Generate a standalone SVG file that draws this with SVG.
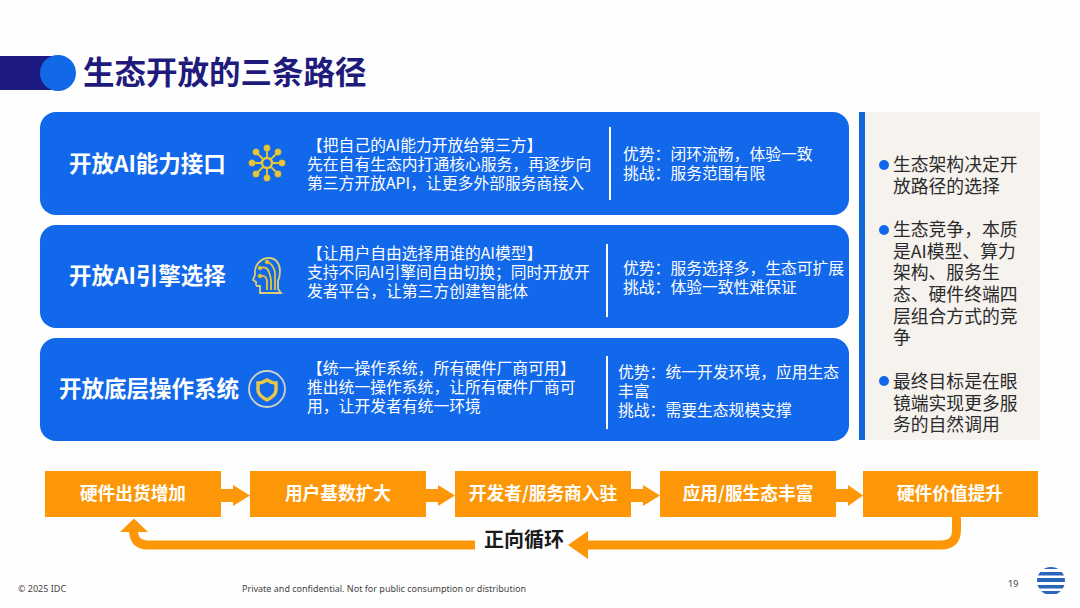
<svg xmlns="http://www.w3.org/2000/svg" width="1080" height="608" viewBox="0 0 1080 608">
<style>
text{font-family:"Noto Sans CJK SC","Noto Sans",sans-serif}
.card{fill:#1268ea}
.ct{fill:#fff;font-size:22.500px;font-weight:700}
.b{fill:#fff;font-size:15.800px}
.sep{stroke:#fff;stroke-width:2}
.side{fill:#2b2b2b;font-size:17.800px}
.dot{fill:#1268ea}
.box{fill:#fd9708}
.bt{fill:#fff;font-size:17.700px;font-weight:700;text-anchor:middle}
.ar{fill:#fd9708}
.ic{fill:none;stroke:#e6c63c;stroke-width:1.800}
.icd{fill:#e6c63c;stroke:#d0b030;stroke-width:.5}
.ft{fill:#444;font-size:9px;font-family:"Noto Sans",sans-serif}
</style>
<rect width="1080" height="608" fill="#fefefe"/>
<g id="header">
<rect x="0" y="56" width="60" height="34" fill="#1e1a84"/>
<circle cx="58" cy="73" r="18" fill="#1269e8"/>
<text x="83" y="84" font-size="31.500" font-weight="700" fill="#1f1b7c">生态开放的三条路径</text>
</g>
<g id="card1">
<rect class="card" x="40" y="112" width="809" height="103" rx="16"/>
<text class="ct" x="69" y="172">开放AI能力接口</text>
<g transform="translate(267,163)">
<g class="ic"><circle r="5" stroke-width="2.500"/><path d="M0-5V-13M0 5V13M-5 0H-13M5 0H13M-3.500-3.500L-9.500-9.500M3.500 3.500L9.500 9.500M-3.500 3.500L-9.500 9.500M3.500-3.500L9.500-9.500"/></g>
<g class="icd"><circle cx="0" cy="-15" r="3.200"/><circle cx="0" cy="15" r="3.200"/><circle cx="-15" cy="0" r="3.200"/><circle cx="15" cy="0" r="3.200"/><circle cx="-11" cy="-11" r="3.200"/><circle cx="11" cy="11" r="3.200"/><circle cx="-11" cy="11" r="3.200"/><circle cx="11" cy="-11" r="3.200"/></g>
</g>
<text class="b" x="307" y="151">【把自己的AI能力开放给第三方】</text>
<text class="b" x="307" y="170">先在自有生态内打通核心服务，再逐步向</text>
<text class="b" x="307" y="189">第三方开放API，让更多外部服务商接入</text>
<line class="sep" x1="610" y1="127" x2="610" y2="200"/>
<text class="b" x="623" y="160">优势：闭环流畅，体验一致</text>
<text class="b" x="623" y="179">挑战：服务范围有限</text>
</g>
<g id="card2">
<rect class="card" x="40" y="225" width="809" height="103" rx="16"/>
<text class="ct" x="69" y="284">开放AI引擎选择</text>
<g transform="translate(267,275)">
<path d="M-7 18V11H-10C-11 11-11 9-11 7L-14 5C-13 2-12 1-12-1-13-10-6-17 2-17 9-17 13-11 13-4 13 1 12 4 11 6V14L14 18Z" fill="none" stroke="#d9cf78" stroke-width="1.800"/>
<path class="ic" d="M-6-7C-2-9 1-6 2-3 3 0 4 3 4 6V15M1-13C5-11 7-7 8-3V15M-6 1C-2 0 0 3 0 7V15"/>
<g class="icd"><circle cx="-7" cy="-7" r="2"/><circle cx="0" cy="-13" r="2"/><circle cx="-7" cy="1" r="2"/></g>
</g>
<text class="b" x="307" y="259">【让用户自由选择用谁的AI模型】</text>
<text class="b" x="307" y="278">支持不同AI引擎间自由切换；同时开放开</text>
<text class="b" x="307" y="297">发者平台，让第三方创建智能体</text>
<line class="sep" x1="607" y1="244" x2="607" y2="317"/>
<text class="b" x="623" y="274">优势：服务选择多，生态可扩展</text>
<text class="b" x="623" y="293">挑战：体验一致性难保证</text>
</g>
<g id="card3">
<rect class="card" x="40" y="338" width="809" height="103" rx="16"/>
<text class="ct" x="59" y="397">开放底层操作系统</text>
<g transform="translate(267,389)">
<circle r="18" fill="none" stroke="#cfd0c8" stroke-width="1.800"/>
<path d="M0-9C3-7 6-6 9-6V1C9 5 4 9 0 11-4 9-9 5-9 1V-6C-6-6-3-7 0-9Z" fill="none" stroke="#e6c84a" stroke-width="3.400"/>
</g>
<text class="b" x="307" y="374">【统一操作系统，所有硬件厂商可用】</text>
<text class="b" x="307" y="393">推出统一操作系统，让所有硬件厂商可</text>
<text class="b" x="307" y="412">用，让开发者有统一环境</text>
<line class="sep" x1="607" y1="356" x2="607" y2="429"/>
<text class="b" x="618" y="378">优势：统一开发环境，应用生态</text>
<text class="b" x="618" y="397">丰富</text>
<text class="b" x="618" y="416">挑战：需要生态规模支撑</text>
</g>
<g id="side-panel">
<rect x="865" y="112" width="175" height="328" fill="#f6f2ee"/>
<rect x="859" y="112" width="6" height="328" fill="#1268d8"/>
<circle class="dot" cx="884" cy="165" r="5"/>
<text class="side" x="893" y="171">生态架构决定开</text>
<text class="side" x="893" y="193">放路径的选择</text>
<circle class="dot" cx="884" cy="230" r="5"/>
<text class="side" x="893" y="236">生态竞争，本质</text>
<text class="side" x="893" y="258">是AI模型、算力</text>
<text class="side" x="893" y="279">架构、服务生</text>
<text class="side" x="893" y="301">态、硬件终端四</text>
<text class="side" x="893" y="323">层组合方式的竞</text>
<text class="side" x="893" y="344">争</text>
<circle class="dot" cx="884" cy="381" r="5"/>
<text class="side" x="893" y="388">最终目标是在眼</text>
<text class="side" x="893" y="410">镜端实现更多服</text>
<text class="side" x="893" y="431">务的自然调用</text>
</g>
<g id="connectors">
<path class="ar" d="M221 489H233V485L250 495.500 233 506V502H221Z"/>
<path class="ar" d="M426 489H438V485L455 495.500 438 506V502H426Z"/>
<path class="ar" d="M631 489H643V485L660 495.500 643 506V502H631Z"/>
<path class="ar" d="M836 489H848V485L863 495.500 848 506V502H836Z"/>
<path d="M956.500 517V530Q956.500 545 941 545H588" fill="none" stroke="#fd9708" stroke-width="9"/>
<path class="ar" d="M568 545L588 531V559Z"/>
<path d="M475 545H148Q133.500 545 133.500 530" fill="none" stroke="#fd9708" stroke-width="9"/>
<path class="ar" d="M134 518.500L120 532H148Z"/>
</g>
<g id="n1"><rect class="box" x="45" y="471" width="176" height="46"/><text class="bt" x="133" y="500">硬件出货增加</text></g>
<g id="n2"><rect class="box" x="250" y="471" width="176" height="46"/><text class="bt" x="338" y="500">用户基数扩大</text></g>
<g id="n3"><rect class="box" x="455" y="471" width="176" height="46"/><text class="bt" x="543" y="500">开发者/服务商入驻</text></g>
<g id="n4"><rect class="box" x="660" y="471" width="176" height="46"/><text class="bt" x="748" y="500">应用/服生态丰富</text></g>
<g id="n5"><rect class="box" x="863" y="471" width="175" height="46"/><text class="bt" x="950" y="500">硬件价值提升</text></g>
<text x="484" y="547" font-size="20" font-weight="700" fill="#1a1a1a">正向循环</text>
<g id="footer">
<text class="ft" x="18" y="592">© 2025 IDC</text>
<text class="ft" x="242" y="592">Private and confidential. Not for public consumption or distribution</text>
<text class="ft" x="1008" y="587">19</text>
<clipPath id="gl"><circle cx="1051" cy="581" r="14"/></clipPath>
<g clip-path="url(#gl)" fill="#2a66b8">
<rect x="1036" y="566" width="32" height="3"/>
<rect x="1036" y="572" width="32" height="3.500"/>
<rect x="1036" y="578" width="32" height="4"/>
<rect x="1036" y="585" width="32" height="3.500"/>
<rect x="1036" y="591" width="32" height="3"/>
</g>
</g>
</svg>
